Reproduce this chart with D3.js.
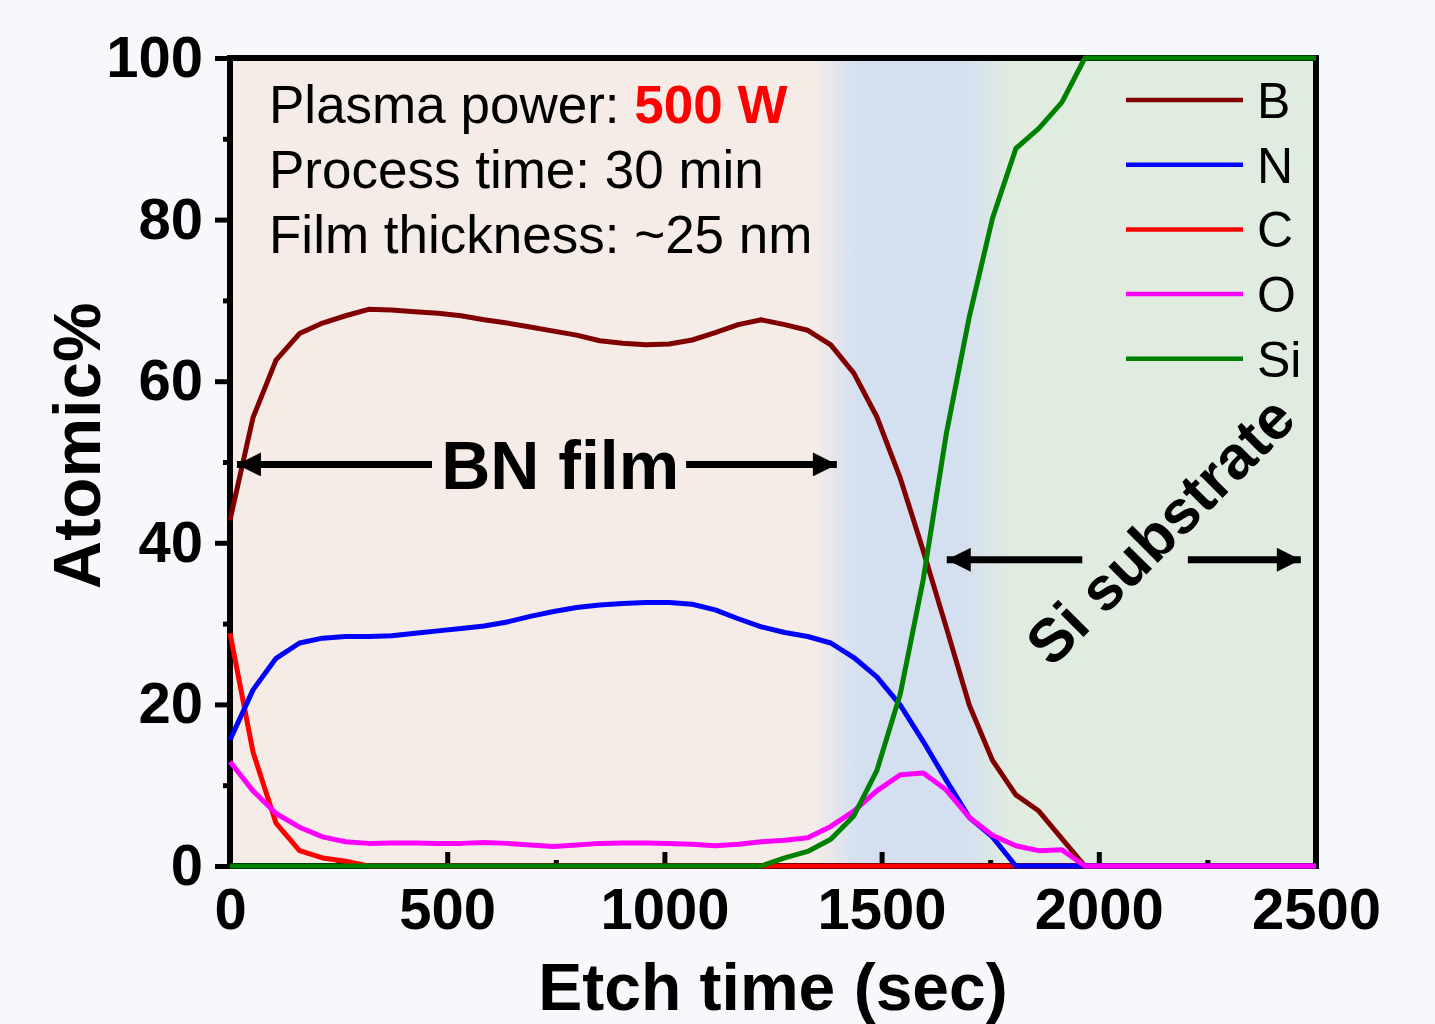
<!DOCTYPE html>
<html>
<head>
<meta charset="utf-8">
<script src="https://cdn.jsdelivr.net/npm/d3@7"></script>
<style>
  html, body { margin: 0; padding: 0; background: #f6f8fb; }
  svg { display: block; font-family: "Liberation Sans", Arial, sans-serif; }
</style>
</head>
<body>
<svg id="chart" width="1435" height="1024"></svg>
<script>
// etch times (sec)
const times = [0, 53, 106, 160, 213, 266, 319, 372, 426, 479, 532, 585, 638, 691, 745, 798,
  851, 904, 957, 1011, 1064, 1117, 1170, 1223, 1277, 1330, 1383, 1436, 1489, 1543, 1596,
  1649, 1702, 1755, 1809, 1862, 1915, 1968, 2021, 2074, 2128, 2181, 2234, 2287, 2340,
  2394, 2447, 2500];

// atomic % per element
const boron = [42.8, 55.5, 62.6, 65.9, 67.2, 68.1, 68.9, 68.8, 68.6, 68.4, 68.1, 67.6, 67.2,
  66.7, 66.2, 65.7, 65.0, 64.7, 64.5, 64.6, 65.1, 66.0, 67.0, 67.6, 67.0, 66.3, 64.5, 61.0,
  55.6, 48.0, 39.0, 29.5, 19.9, 13.1, 8.8, 6.8, 3.4, 0, 0, 0, 0, 0, 0, 0, 0, 0, 0, 0];
const nitrogen = [15.6, 21.8, 25.7, 27.6, 28.2, 28.4, 28.4, 28.5, 28.8, 29.1, 29.4, 29.7,
  30.2, 30.9, 31.5, 32.0, 32.3, 32.5, 32.6, 32.6, 32.4, 31.7, 30.6, 29.6, 28.9, 28.4, 27.6,
  25.8, 23.4, 19.9, 15.4, 10.6, 6.0, 3.6, 0, 0, 0, 0, 0, 0, 0, 0, 0, 0, 0, 0, 0, 0];
const carbon = [28.8, 14.1, 5.3, 1.9, 1.0, 0.6, 0, 0, 0, 0, 0, 0, 0, 0, 0, 0, 0, 0, 0, 0,
  0, 0, 0, 0, 0, 0, 0, 0, 0, 0, 0, 0, 0, 0, 0, 0, 0, 0, 0, 0, 0, 0, 0, 0, 0, 0, 0, 0];
const oxygen = [12.9, 9.3, 6.5, 4.8, 3.6, 3.0, 2.8, 2.85, 2.85, 2.8, 2.8, 2.9, 2.8, 2.6,
  2.4, 2.6, 2.8, 2.85, 2.85, 2.8, 2.7, 2.5, 2.7, 3.0, 3.2, 3.5, 4.9, 6.8, 9.3, 11.3, 11.5,
  9.4, 6.0, 3.8, 2.5, 1.9, 2.0, 0, 0, 0, 0, 0, 0, 0, 0, 0, 0, 0];
const silicon = [0, 0, 0, 0, 0, 0, 0, 0, 0, 0, 0, 0, 0, 0, 0, 0, 0, 0, 0, 0, 0, 0, 0, 0,
  1.0, 1.8, 3.3, 6.2, 11.8, 21.3, 35.5, 53.5, 68.0, 80.1, 88.8, 91.3, 94.5, 100, 100, 100,
  100, 100, 100, 100, 100, 100, 100, 100];

const seriesNames = ["B", "N", "C", "O", "Si"];
const seriesValues = [boron, nitrogen, carbon, oxygen, silicon];
const seriesColors = ["#800000", "#0000ff", "#ff0000", "#ff00ff", "#008000"];
// draw order: B, C, N, O, Si
const drawOrder = [0, 2, 1, 3, 4];

const xMajor = [0, 500, 1000, 1500, 2000, 2500];
const xMinor = [250, 750, 1250, 1750, 2250];
const yMajor = [0, 20, 40, 60, 80, 100];
const yMinor = [10, 30, 50, 70, 90];

const infoLines = ["Plasma power: ", "Process time: 30 min", "Film thickness: ~25 nm"];

const plotLeft = 230, plotRight = 1316, plotTop = 58, plotBottom = 866;

const svg = d3.select("#chart");

const x = d3.scaleLinear().domain([0, 2500]).range([plotLeft, plotRight]);
const y = d3.scaleLinear().domain([0, 100]).range([plotBottom, plotTop]);

// background regions (film -> interface -> substrate)
const defs = svg.append("defs");
const grad = defs.append("linearGradient")
  .attr("id", "bg")
  .attr("gradientUnits", "userSpaceOnUse")
  .attr("x1", plotLeft).attr("x2", plotRight).attr("y1", 0).attr("y2", 0);
const stops = [
  [0, "#f5ece7"], [1345, "#f5ece7"], [1445, "#d4dff0"],
  [1685, "#d4dff0"], [1800, "#e1ece0"], [2500, "#e1ece0"]
];
stops.forEach(s => grad.append("stop")
  .attr("offset", (x(s[0]) - plotLeft) / (plotRight - plotLeft))
  .attr("stop-color", s[1]));

svg.append("rect")
  .attr("x", plotLeft).attr("y", plotTop)
  .attr("width", plotRight - plotLeft).attr("height", plotBottom - plotTop)
  .attr("fill", "url(#bg)");

// arrow markers
const marker = defs.append("marker")
  .attr("id", "head")
  .attr("viewBox", "0 0 10 10")
  .attr("refX", 10).attr("refY", 5)
  .attr("markerUnits", "userSpaceOnUse")
  .attr("markerWidth", 26).attr("markerHeight", 24)
  .attr("orient", "auto-start-reverse");
marker.append("path").attr("d", "M0,0L10,5L0,10Z").attr("fill", "#000");

// axes
const axisFont = "bold 58px 'Liberation Sans', Arial, sans-serif";

svg.append("g")
  .attr("transform", `translate(0,${plotBottom})`)
  .call(d3.axisBottom(x).tickValues(xMajor).tickSize(-14).tickPadding(22).tickFormat(d3.format("d")));
svg.append("g")
  .attr("transform", `translate(0,${plotBottom})`)
  .call(d3.axisBottom(x).tickValues(xMinor).tickSize(-6).tickFormat(""));

svg.append("g")
  .attr("transform", `translate(${plotLeft},0)`)
  .call(d3.axisLeft(y).tickValues(yMajor).tickSize(15).tickPadding(12));
svg.append("g")
  .attr("transform", `translate(${plotLeft},0)`)
  .call(d3.axisLeft(y).tickValues(yMinor).tickSize(7).tickFormat(""));

svg.selectAll(".domain").remove();
svg.selectAll(".tick line").attr("stroke", "#000").attr("stroke-width", 5);
svg.selectAll(".tick text")
  .style("font", axisFont)
  .attr("fill", "#000");

// frame
svg.append("rect")
  .attr("x", plotLeft).attr("y", plotTop)
  .attr("width", plotRight - plotLeft).attr("height", plotBottom - plotTop)
  .attr("fill", "none")
  .attr("stroke", "#000")
  .attr("stroke-width", 6);

// axis titles
svg.append("text")
  .attr("x", x(1250)).attr("y", 1010)
  .attr("text-anchor", "middle")
  .style("font", "bold 66px 'Liberation Sans', Arial, sans-serif")
  .text("Etch time (sec)");

svg.append("text")
  .attr("transform", `translate(100,${y(52)}) rotate(-90)`)
  .attr("text-anchor", "middle")
  .style("font", "bold 67px 'Liberation Sans', Arial, sans-serif")
  .text("Atomic%");

// data lines
const line = d3.line()
  .x((d, i) => x(times[i]))
  .y(d => y(d));

svg.append("g")
  .selectAll("path")
  .data(drawOrder)
  .join("path")
  .attr("d", k => line(seriesValues[k]))
  .attr("fill", "none")
  .attr("stroke", k => seriesColors[k])
  .attr("stroke-width", 5)
  .attr("stroke-linejoin", "round");

// info text
const info = svg.append("g").style("font", "53px 'Liberation Sans', Arial, sans-serif");
infoLines.forEach((t, i) => {
  const txt = info.append("text")
    .attr("x", 269)
    .attr("y", 123 + i * 65)
    .attr("fill", "#000");
  txt.append("tspan").text(t);
  if (i === 0) {
    txt.append("tspan")
      .attr("fill", "#ff0000")
      .style("font-weight", "bold")
      .text("500 W");
  }
});

// BN film annotation
const bnY = y(49.7);
svg.append("text")
  .attr("x", x(760)).attr("y", bnY)
  .attr("dy", "0.36em")
  .attr("text-anchor", "middle")
  .style("font", "bold 68px 'Liberation Sans', Arial, sans-serif")
  .text("BN film");

function arrow(x1, x2, yy) {
  svg.append("line")
    .attr("x1", x1).attr("x2", x2)
    .attr("y1", yy).attr("y2", yy)
    .attr("stroke", "#000")
    .attr("stroke-width", 7)
    .attr("marker-end", "url(#head)");
}
arrow(x(465), x(16), bnY);
arrow(x(1050), x(1397), bnY);

// Si substrate annotation
const siY = y(37.9);
arrow(x(1962), x(1650), siY);
arrow(x(2205), x(2465), siY);

svg.append("text")
  .attr("transform", `translate(${x(2140)},${y(41.6)}) rotate(-45)`)
  .attr("text-anchor", "middle")
  .attr("dy", "0.36em")
  .style("font", "bold 61px 'Liberation Sans', Arial, sans-serif")
  .text("Si substrate");

// legend
const legend = svg.append("g").attr("transform", "translate(1126,100)");
seriesNames.forEach((name, i) => {
  const g = legend.append("g").attr("transform", `translate(0,${i * 64.7})`);
  g.append("line")
    .attr("x1", 0).attr("x2", 117)
    .attr("stroke", seriesColors[i])
    .attr("stroke-width", 4.5);
  g.append("text")
    .attr("x", 131)
    .attr("dy", "0.36em")
    .style("font", "50px 'Liberation Sans', Arial, sans-serif")
    .text(name);
});
</script>
</body>
</html>
